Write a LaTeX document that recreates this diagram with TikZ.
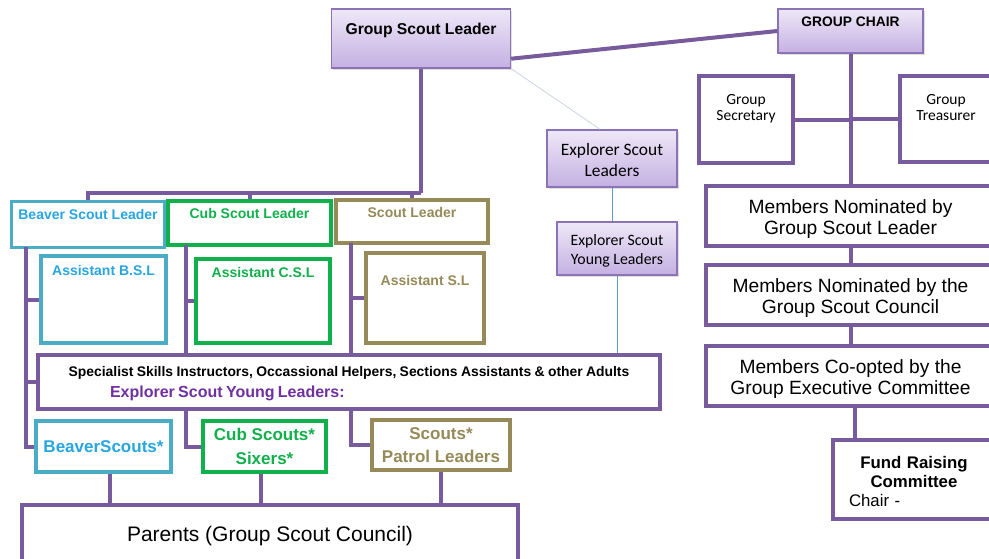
\documentclass[tikz,border=0pt]{standalone}
\usepackage{fontspec}
\setmainfont{Liberation Sans}
\newfontfamily\calibri{Carlito}
\usetikzlibrary{calc,shadows}
\definecolor{lnpurple}{HTML}{775B9C}
\definecolor{bdpurple}{HTML}{8A74B6}
\definecolor{gtop}{HTML}{EEE8F7}
\definecolor{gbot}{HTML}{C4B0E2}
\definecolor{bvblue}{HTML}{4BACC6}
\definecolor{bvtext}{HTML}{27A6E0}
\definecolor{cbgreen}{HTML}{10B04A}
\definecolor{scolive}{HTML}{958A58}
\definecolor{espurple}{HTML}{7030A0}
\definecolor{thinblue}{HTML}{5B9BD5}
\definecolor{thingray}{HTML}{CCD3E3}
\tikzset{
  conn/.style={draw=lnpurple, line width=4pt},
  gradbox/.style={draw=bdpurple, line width=1.4pt, top color=gtop, bottom color=gbot, inner sep=0pt,
    drop shadow={opacity=0.25, shadow xshift=1.5pt, shadow yshift=-1.5pt}},
  whitebox/.style={draw=lnpurple, line width=4pt, fill=white, inner sep=0pt},
  bluebox/.style={draw=bvblue, line width=3.5pt, fill=white, inner sep=0pt},
  greenbox/.style={draw=cbgreen, line width=3.5pt, fill=white, inner sep=0pt},
  olivebox/.style={draw=scolive, line width=3.5pt, fill=white, inner sep=0pt},
  toplbl/.style={anchor=north, inner sep=0pt, align=center},
  midlbl/.style={anchor=center, inner sep=0pt, align=center},
}
\begin{document}
\begin{tikzpicture}[x=1pt, y=-1pt]
\clip (0,0) rectangle (989,558);
\fill[white] (0,0) rectangle (989,558);

% ---------- top ----------
\node[gradbox, minimum width=179pt, minimum height=59pt,
  label={[toplbl, yshift=-15pt, font=\fontsize{15.7}{18}\selectfont\bfseries]north:Group Scout Leader}]
  (gsl) at (421,38.5) {};
\node[gradbox, minimum width=145pt, minimum height=44pt,
  label={[toplbl, yshift=-8pt, font=\fontsize{13.8}{16}\selectfont\bfseries]north:GROUP CHAIR}]
  (chair) at (850.5,31) {};

\node[gradbox, minimum width=130pt, minimum height=57pt,
  label={[midlbl, yshift=-2pt, font=\calibri\fontsize{17.4}{21}\selectfont]center:Explorer Scout\\Leaders}]
  (esl) at (612,158.5) {};
\node[gradbox, minimum width=120pt, minimum height=53pt,
  label={[midlbl, yshift=-2.5pt, font=\calibri\fontsize{15.8}{19}\selectfont]center:Explorer Scout\\Young Leaders}]
  (esyl) at (617,248.5) {};

% ---------- right column ----------
\node[whitebox, minimum width=94pt, minimum height=87pt,
  label={[toplbl, yshift=-20pt, font=\calibri\fontsize{15.5}{16}\selectfont]north:Group\\Secretary}]
  (sec) at (746,119.5) {};
\node[whitebox, minimum width=100pt, minimum height=86pt,
  label={[toplbl, yshift=-20pt, xshift=-4pt, font=\calibri\fontsize{15.5}{16}\selectfont]north:Group\\Treasurer}]
  (tre) at (950,119) {};

\node[whitebox, minimum width=289pt, minimum height=60pt,
  label={[midlbl, yshift=-3pt, font=\fontsize{19.2}{21}\selectfont]center:Members Nominated by\\Group Scout Leader}]
  (mn1) at (850.5,216) {};
\node[whitebox, minimum width=289pt, minimum height=60pt,
  label={[midlbl, yshift=-3.5pt, font=\fontsize{19.2}{21}\selectfont]center:Members Nominated by the\\Group Scout Council}]
  (mn2) at (850.5,295) {};
\node[whitebox, minimum width=289pt, minimum height=60pt,
  label={[midlbl, yshift=-3.5pt, font=\fontsize{19.2}{21}\selectfont]center:Members Co-opted by the\\Group Executive Committee}]
  (mn3) at (850.5,376) {};
\node[whitebox, minimum width=162pt, minimum height=79pt,
  label={[midlbl, yshift=-2pt, text width=140pt, font=\fontsize{16.8}{19}\selectfont]center:\textbf{Fund Raising}\\\textbf{Committee}\\\makebox[140pt][l]{\hspace*{5pt}Chair -}}]
  (fr) at (914,479.5) {};

% ---------- left: section leaders ----------
\node[bluebox, minimum width=153pt, minimum height=46pt,
  label={[toplbl, yshift=-9pt, text=bvtext, font=\fontsize{14}{16}\selectfont\bfseries]north:Beaver Scout Leader}]
  (bsl) at (88,224.5) {};
\node[greenbox, minimum width=163pt, minimum height=44pt,
  label={[toplbl, yshift=-9pt, text=cbgreen, font=\fontsize{14}{16}\selectfont\bfseries]north:Cub Scout Leader}]
  (csl) at (249.5,223) {};
\node[olivebox, minimum width=152pt, minimum height=43pt,
  label={[toplbl, yshift=-9pt, text=scolive, font=\fontsize{14}{16}\selectfont\bfseries]north:Scout Leader}]
  (sl) at (412,221.5) {};

\node[bluebox, minimum width=125pt, minimum height=87pt,
  label={[toplbl, yshift=-11pt, text=bvtext, font=\fontsize{14}{16}\selectfont\bfseries]north:Assistant B.S.L}]
  (absl) at (103.5,299.5) {};
\node[greenbox, minimum width=134pt, minimum height=84pt,
  label={[toplbl, yshift=-10pt, text=cbgreen, font=\fontsize{14}{16}\selectfont\bfseries]north:Assistant C.S.L}]
  (acsl) at (263,301) {};
\node[olivebox, minimum width=118pt, minimum height=90pt,
  label={[toplbl, yshift=-24pt, text=scolive, font=\fontsize{14}{16}\selectfont\bfseries]north:Assistant S.L}]
  (asl) at (425,298) {};

\node[whitebox, minimum width=622pt, minimum height=54pt,
  label={[midlbl, yshift=-1.5pt, align=left, text width=600pt]center:\makebox[600pt]{\fontsize{13.9}{16}\selectfont\bfseries Specialist Skills Instructors, Occassional Helpers, Sections Assistants \& other Adults}\\[6pt]
   \hspace*{61pt}{\color{espurple}\fontsize{16}{18}\selectfont\bfseries Explorer Scout Young Leaders:}}]
  (spec) at (349,382) {};

\node[bluebox, minimum width=135pt, minimum height=51pt, text=bvtext,
  font=\fontsize{17}{22}\selectfont\bfseries] (bs) at (103.5,446.5) {BeaverScouts*};
\node[greenbox, minimum width=123pt, minimum height=51pt, text=cbgreen, align=center,
  font=\fontsize{17}{23.5}\selectfont\bfseries] (cs) at (264.5,446.5) {Cub Scouts*\\Sixers*};
\node[olivebox, minimum width=138pt, minimum height=50pt, text=scolive, align=center,
  font=\fontsize{17}{23.5}\selectfont\bfseries] (sc) at (441,445) {Scouts*\\Patrol Leaders};

\node[whitebox, minimum width=496pt, minimum height=66pt,
  label={[midlbl, yshift=2pt, font=\fontsize{21}{24}\selectfont]center:Parents (Group Scout Council)}]
  (par) at (270,538) {};

% ---------- connectors ----------
\coordinate (bus) at (421,192.5);
\draw[conn] (gsl.south) -- (bus);
\draw[conn] (bus) -| (bsl.north);
\draw[conn] (bus) -| (csl.north);
\draw[conn] (bus) -| (sl.north);

\draw[conn] ($(gsl.south east)+(0,-10)$) -- (chair.west);
\draw[thingray, line width=0.8pt] (gsl.south east) -- ($(esl.north)+(-12,0)$);
\draw[thinblue, line width=1pt] (esl.south) -- (esl.south |- esyl.north);
\draw[thinblue, line width=1pt] (esyl.south) -- (esyl.south |- spec.north);

\coordinate (bvx) at (26,247);
\coordinate (cbx) at (186,245);
\coordinate (scx) at (351,243);
\draw[conn] (bvx) |- (bs.west);
\draw[conn] (bvx |- absl.west) -- (absl.west);
\draw[conn] (bvx |- spec.west) -- (spec.west);
\draw[conn] (cbx) -- (cbx |- spec.north);
\draw[conn] (cbx |- acsl.west) -- (acsl.west);
\draw[conn] (cbx |- spec.south) |- (cs.west);
\draw[conn] (scx) -- (scx |- spec.north);
\draw[conn] (scx |- asl.west) -- (asl.west);
\draw[conn] (scx |- spec.south) |- (sc.west);

\draw[conn] ($(bs.south)+(6,0)$) -- ($(bs.south |- par.north)+(6,0)$);
\draw[conn] ($(cs.south)+(-4,0)$) -- ($(cs.south |- par.north)+(-4,0)$);
\draw[conn] (sc.south) -- (sc.south |- par.north);

\draw[conn] (chair.south) -- (chair.south |- mn1.north);
\draw[conn] (sec.east) -- (sec.east -| chair.south);
\draw[conn] (tre.west) -- (tre.west -| chair.south);
\draw[conn] (mn1.south) -- (mn2.north);
\draw[conn] (mn2.south) -- (mn3.north);
\draw[conn] ($(mn3.south)+(4,0)$) -- ($(mn3.south |- fr.north)+(4,0)$);
\end{tikzpicture}
\end{document}
